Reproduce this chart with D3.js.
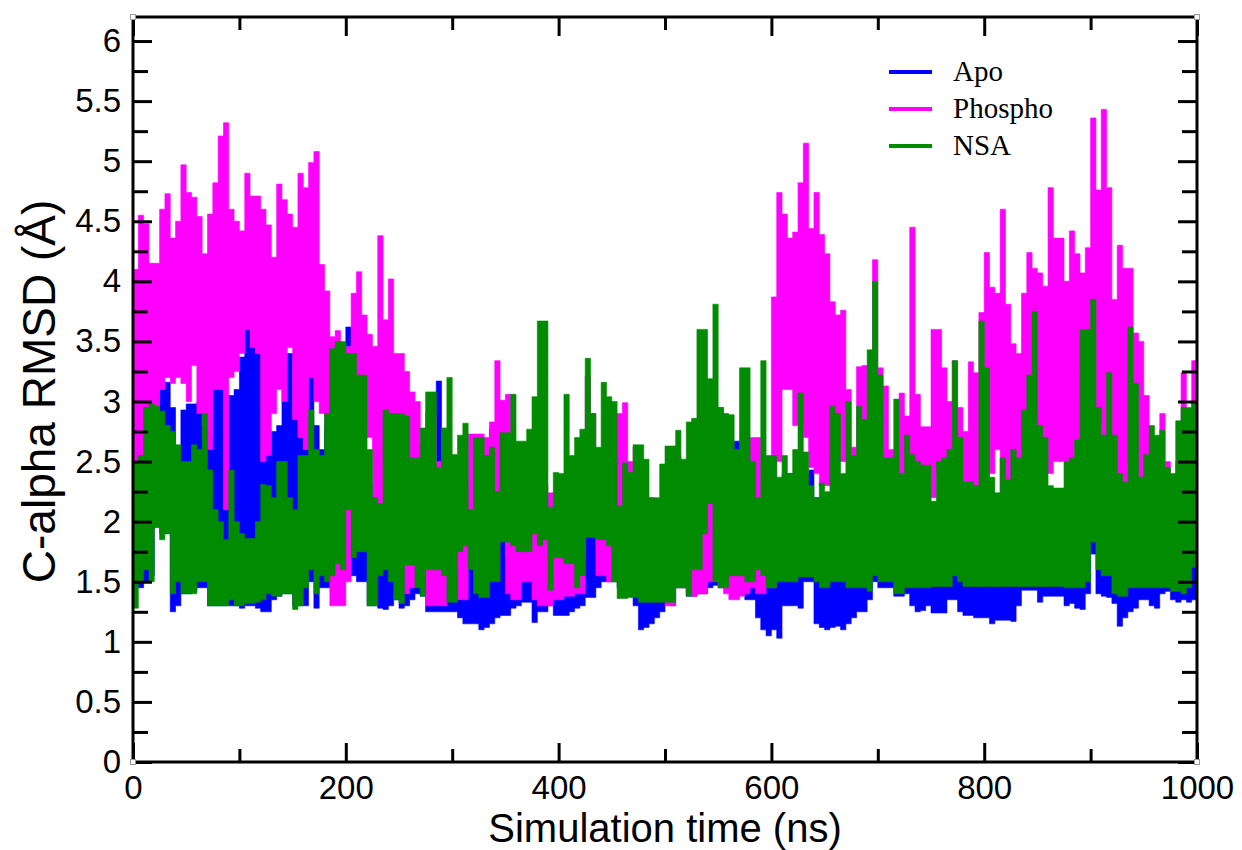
<!DOCTYPE html>
<html>
<head>
<meta charset="utf-8">
<script src="https://cdn.jsdelivr.net/npm/d3@7"></script>
<style>
  body { margin: 0; background: #fff; }
  svg { display: block; }
</style>
</head>
<body>
<svg id="chart" width="1242" height="850"></svg>
<script>
// Trajectory RMSD envelopes: each value is the max / min over a 5 ns window.
const windowNs = 5;

const apoHigh = [
  2.4,2.4,2.6,2.8,2.9,3.1,3.16,2.95,2.6,2.93,2.98,2.98,3.0,3.19,2.7,3.16,3.1,2.1,3.05,3.1,3.37,3.6,3.45,3.4,2.5,
  2.6,2.75,2.8,3.3,3.4,2.85,2.7,2.6,3.2,2.8,2.6,2.8,3.0,2.5,2.5,3.62,3.0,2.6,2.5,2.3,2.2,2.1,2.2,2.3,2.3,
  2.3,2.0,2.0,2.0,2.1,2.0,2.5,3.17,2.4,2.2,2.2,2.0,2.0,2.0,2.0,1.8,1.8,2.77,2.0,1.9,1.7,1.7,1.7,1.7,1.7,
  1.9,1.9,1.9,1.9,1.6,1.6,1.6,1.6,1.6,1.7,1.87,1.87,1.8,1.8,1.8,1.8,1.6,1.6,1.6,1.6,1.6,1.6,1.6,1.6,1.7,
  2.2,2.0,2.0,2.0,2.0,2.0,2.6,2.3,2.0,2.0,2.0,2.0,2.0,2.67,2.67,2.3,2.67,2.0,2.0,1.8,1.8,1.8,2.4,2.4,2.4,
  2.4,2.4,2.43,2.2,2.2,2.2,2.2,2.2,2.2,2.2,2.0,2.0,2.0,2.0,2.0,2.0,2.0,2.5,2.5,2.0,2.0,2.0,2.0,2.0,2.0,
  2.0,2.0,2.0,2.0,2.0,1.7,1.7,1.7,1.7,1.7,1.7,1.7,1.7,1.7,1.7,1.65,1.65,1.65,1.65,1.65,1.65,1.65,1.65,1.65,1.65,
  2.0,2.0,2.0,2.0,2.0,2.0,2.0,2.4,2.0,2.0,2.0,2.0,2.0,2.0,2.0,2.0,2.0,2.0,2.0,2.0,2.0,2.0,2.0,2.0,2.0
];
const apoLow = [
  1.45,1.45,1.5,1.55,2.0,1.9,1.9,1.25,1.3,1.4,1.4,1.42,1.45,1.45,1.3,1.3,1.3,1.3,1.3,1.3,1.28,1.3,1.3,1.28,1.25,
  1.25,1.35,1.38,1.4,1.4,1.3,1.3,1.3,1.5,1.28,1.45,1.45,1.5,1.6,1.55,1.55,1.55,1.5,1.5,1.3,1.3,1.28,1.27,1.3,1.35,
  1.28,1.3,1.35,1.4,1.38,1.25,1.25,1.25,1.25,1.25,1.25,1.2,1.15,1.15,1.15,1.1,1.12,1.15,1.2,1.22,1.22,1.28,1.3,1.33,1.33,
  1.16,1.25,1.25,1.3,1.22,1.22,1.22,1.25,1.28,1.3,1.37,1.37,1.45,1.5,1.5,1.5,1.45,1.45,1.45,1.3,1.1,1.12,1.15,1.2,1.25,
  1.33,1.3,1.45,1.45,1.38,1.38,1.4,1.4,1.45,1.47,1.45,1.45,1.5,1.45,1.4,1.35,1.35,1.2,1.1,1.05,1.1,1.03,1.3,1.3,1.3,
  1.28,1.5,1.5,1.15,1.12,1.1,1.12,1.13,1.1,1.15,1.2,1.25,1.25,1.35,1.5,1.45,1.45,1.45,1.38,1.38,1.4,1.3,1.25,1.26,1.3,
  1.24,1.24,1.24,1.35,1.35,1.25,1.22,1.22,1.2,1.2,1.2,1.15,1.18,1.18,1.18,1.17,1.3,1.43,1.43,1.43,1.33,1.38,1.38,1.38,1.38,
  1.3,1.32,1.28,1.27,1.4,1.73,1.4,1.38,1.37,1.32,1.13,1.2,1.25,1.28,1.35,1.35,1.3,1.28,1.4,1.42,1.35,1.33,1.35,1.33,1.35
];

const phosphoHigh = [
  4.1,4.55,4.48,4.15,4.15,4.6,4.73,4.36,4.5,4.97,4.74,4.7,4.54,4.23,4.56,4.82,5.21,5.32,4.6,4.5,4.42,4.9,4.71,4.71,4.6,
  4.47,4.2,4.81,4.68,4.56,4.45,4.9,4.78,4.99,5.08,4.14,3.92,3.54,3.59,3.43,3.46,3.9,4.08,3.72,3.56,3.46,4.38,3.68,4.02,3.4,
  3.4,3.25,3.08,3.0,2.65,2.9,2.9,2.5,2.4,2.2,2.3,2.2,2.3,2.73,2.73,2.73,2.7,2.83,3.34,3.01,3.06,2.5,2.5,2.5,2.4,
  2.2,2.2,2.3,2.24,2.0,1.9,1.9,1.9,1.9,2.2,3.21,2.9,2.3,2.2,2.3,2.9,2.9,2.99,2.5,2.62,2.3,2.2,2.2,2.1,2.1,
  2.2,2.2,2.55,2.45,2.2,2.2,2.2,2.3,2.8,2.5,2.95,2.5,2.3,2.3,2.3,2.2,2.7,2.7,2.2,2.2,3.87,4.74,4.56,4.36,4.41,
  4.82,5.15,4.44,4.74,4.39,4.23,3.83,3.72,3.76,3.1,2.62,3.29,3.3,3.3,4.18,3.28,3.13,2.6,2.6,3.07,2.88,4.45,3.06,2.79,2.79,
  3.6,3.6,3.28,3.0,3.34,2.95,2.75,3.33,3.24,3.74,4.24,3.95,3.9,4.6,3.81,3.48,3.4,3.9,4.24,4.11,4.07,3.96,4.78,4.36,4.36,
  4.0,4.42,4.23,4.07,4.28,5.36,4.76,5.43,4.78,3.85,4.3,4.11,4.11,3.57,3.5,3.05,2.61,2.7,2.9,2.5,2.3,2.5,3.24,2.9,3.34
];
const phosphoLow = [
  2.3,2.4,2.5,2.8,2.9,3.1,3.2,3.15,3.2,3.15,3.0,3.3,2.9,2.8,2.6,3.1,3.1,2.1,3.2,3.25,3.4,3.6,3.45,3.4,2.5,
  2.55,2.9,3.1,3.0,3.45,2.85,2.7,2.6,3.2,3.0,2.9,2.8,1.3,1.3,1.3,1.5,1.8,3.0,2.8,2.7,2.1,1.85,2.5,2.4,2.3,
  2.3,1.4,1.45,2.0,1.9,1.3,1.3,1.3,1.3,1.5,1.6,1.35,1.35,1.7,1.7,1.7,1.8,2.0,2.0,2.0,1.4,1.35,1.35,1.5,1.5,
  1.35,1.3,1.3,1.3,1.35,1.35,1.38,1.38,1.4,1.4,1.9,1.9,1.55,1.55,1.5,1.5,1.5,1.5,1.5,1.5,1.4,1.35,1.35,1.35,1.35,
  1.3,1.3,1.45,1.45,1.4,1.38,1.4,1.4,1.5,1.5,1.45,1.4,1.35,1.35,1.38,1.4,1.45,1.4,1.4,1.45,1.45,2.5,3.1,3.1,2.8,
  2.8,2.7,2.45,2.4,2.3,2.3,2.3,2.5,2.5,2.6,2.0,2.0,1.9,1.6,1.6,2.0,2.2,2.2,2.2,2.2,2.2,2.2,2.2,2.0,2.0,
  2.2,2.4,2.4,2.4,2.3,2.3,2.2,2.2,2.2,2.2,2.3,2.4,2.6,2.1,2.35,2.35,2.4,2.6,2.6,2.6,2.6,2.5,2.4,2.5,2.5,
  2.5,2.5,2.6,2.9,2.9,2.9,2.8,2.2,2.5,2.4,2.0,2.2,2.5,2.4,2.3,2.3,2.3,2.2,2.3,2.2,2.0,2.0,2.2,2.2,2.3
];

const nsaHigh = [
  2.5,2.55,2.95,2.98,2.96,2.92,2.8,2.75,2.64,2.5,2.5,2.64,2.6,2.9,2.43,2.1,2.0,1.85,2.43,2.0,1.9,1.86,1.86,2.0,2.31,
  2.3,2.2,2.5,2.5,2.2,2.1,2.55,2.55,2.93,2.6,2.55,2.9,3.44,3.5,3.5,3.4,3.4,3.22,3.22,2.6,2.2,2.15,2.93,2.9,2.9,
  2.9,2.88,2.53,2.53,2.78,3.08,3.08,2.45,2.78,3.2,2.56,2.72,2.82,2.1,2.7,2.7,2.55,2.62,2.25,2.74,2.74,3.06,2.67,2.67,2.77,
  3.04,3.67,3.67,2.12,2.41,2.4,3.06,2.55,2.7,2.77,3.36,2.9,2.62,3.16,3.04,3.0,2.13,2.49,2.41,2.64,2.64,2.52,2.2,2.2,2.48,
  2.63,2.63,2.76,2.52,2.83,2.86,3.6,3.6,3.19,3.81,2.95,2.9,2.89,2.6,3.28,3.28,2.5,2.2,3.34,2.55,2.55,2.37,2.55,2.4,2.6,
  3.07,2.58,2.3,2.2,2.32,2.25,2.96,2.9,2.4,3.0,2.55,2.96,2.85,3.43,4.0,3.22,2.53,2.53,3.02,2.4,2.72,2.56,2.5,2.47,2.47,
  2.17,2.5,2.53,2.6,3.34,2.7,2.33,2.33,2.3,3.67,3.28,2.37,2.24,2.53,2.35,2.6,2.53,2.93,3.22,3.75,2.8,2.7,2.3,2.28,2.28,
  2.5,2.53,2.68,3.6,3.6,3.85,2.95,2.72,3.24,2.72,2.4,2.33,3.62,3.15,2.37,2.56,2.8,2.72,2.76,2.45,2.4,2.84,2.95,2.95,3.0
];
const nsaLow = [
  1.28,1.5,1.6,1.5,1.95,1.85,1.9,1.4,1.5,1.4,1.4,1.4,1.5,1.5,1.3,1.3,1.3,1.3,1.35,1.3,1.3,1.32,1.32,1.33,1.35,
  1.4,1.38,1.38,1.4,1.4,1.27,1.3,1.45,1.6,1.4,1.55,1.5,1.55,1.65,1.6,2.1,1.7,1.75,1.75,1.3,1.3,1.55,1.6,1.5,1.35,
  1.32,1.64,1.64,1.45,1.38,1.6,1.6,1.6,1.55,1.33,1.33,1.75,1.8,1.6,1.4,1.37,1.37,1.5,1.5,1.83,1.83,1.8,1.75,1.75,1.75,
  1.9,1.8,1.85,1.43,1.7,1.7,1.65,1.65,1.45,1.55,1.87,1.87,1.85,1.85,1.8,1.5,1.36,1.36,1.37,1.37,1.33,1.33,1.33,1.33,1.33,
  1.33,1.33,1.45,1.45,1.38,1.6,1.6,1.9,2.15,1.5,1.45,1.45,1.55,1.55,1.55,1.5,1.5,1.6,1.55,1.45,1.45,1.5,1.5,1.5,1.5,
  1.54,1.54,1.54,1.5,1.45,1.45,1.5,1.5,1.5,1.45,1.45,1.45,1.45,1.42,1.55,1.5,1.5,1.5,1.4,1.4,1.45,1.45,1.45,1.45,1.45,
  1.46,1.46,1.46,1.46,1.55,1.5,1.46,1.46,1.46,1.46,1.46,1.46,1.46,1.46,1.46,1.46,1.46,1.46,1.46,1.46,1.46,1.46,1.46,1.46,1.46,
  1.45,1.45,1.45,1.45,1.5,1.83,1.6,1.55,1.55,1.4,1.38,1.38,1.45,1.45,1.45,1.45,1.45,1.45,1.45,1.45,1.42,1.42,1.4,1.45,1.62
];

const seriesNames = ["Apo", "Phospho", "NSA"];
const seriesColors = ["#0000ff", "#ff00ff", "#008b00"];
const xMajorTicks = [0, 200, 400, 600, 800, 1000];
const xMinorTicks = [100, 300, 500, 700, 900];
const yMajorTicks = [0, 0.5, 1, 1.5, 2, 2.5, 3, 3.5, 4, 4.5, 5, 5.5, 6];
const yMinorTicks = [0.25, 0.75, 1.25, 1.75, 2.25, 2.75, 3.25, 3.75, 4.25, 4.75, 5.25, 5.75];

const svg = d3.select("#chart");
const plot = { left: 133, right: 1197, top: 17, bottom: 762 };

const x = d3.scaleLinear().domain([0, 1000]).range([plot.left, plot.right]);
const y = d3.scaleLinear().domain([0, 6.2]).range([plot.bottom, plot.top]);

svg.append("defs").append("clipPath").attr("id", "plot-clip")
  .append("rect")
  .attr("x", plot.left).attr("y", plot.top)
  .attr("width", plot.right - plot.left).attr("height", plot.bottom - plot.top);

function envelope(hi, lo) {
  const pts = hi.map((h, i) => ({ t: i * windowNs, hi: h, lo: lo[i] }));
  const last = pts[pts.length - 1];
  pts.push({ t: hi.length * windowNs, hi: last.hi, lo: last.lo });
  return pts;
}

const band = d3.area()
  .curve(d3.curveStepAfter)
  .x(d => x(d.t))
  .y0(d => y(d.lo))
  .y1(d => y(d.hi));

const series = [
  envelope(apoHigh, apoLow),
  envelope(phosphoHigh, phosphoLow),
  envelope(nsaHigh, nsaLow)
];

const dataLayer = svg.append("g").attr("clip-path", "url(#plot-clip)");
series.forEach((pts, i) => {
  dataLayer.append("path")
    .datum(pts)
    .attr("d", band)
    .attr("fill", seriesColors[i])
    .attr("stroke", seriesColors[i])
    .attr("stroke-width", 0.6);
});

// Axes: ticks point into the plot on all four sides
const tickFont = "'Liberation Sans', Arial, Helvetica, sans-serif";
const fmt = d => String(d);

function styleAxis(g) {
  g.select(".domain").remove();
  g.selectAll(".tick line").attr("stroke", "#000").attr("stroke-width", 3);
  g.selectAll(".tick text").attr("font-family", tickFont).attr("font-size", 33).attr("fill", "#000");
}

svg.append("g").attr("transform", `translate(0,${plot.bottom})`)
  .call(d3.axisBottom(x).tickValues(xMajorTicks).tickSize(-19).tickPadding(14).tickFormat(fmt))
  .call(styleAxis);
svg.append("g").attr("transform", `translate(0,${plot.bottom})`)
  .call(d3.axisBottom(x).tickValues(xMinorTicks).tickSize(-13).tickFormat(""))
  .call(styleAxis);
svg.append("g").attr("transform", `translate(0,${plot.top})`)
  .call(d3.axisTop(x).tickValues(xMajorTicks).tickSize(-19).tickFormat(""))
  .call(styleAxis);
svg.append("g").attr("transform", `translate(0,${plot.top})`)
  .call(d3.axisTop(x).tickValues(xMinorTicks).tickSize(-13).tickFormat(""))
  .call(styleAxis);

svg.append("g").attr("transform", `translate(${plot.left},0)`)
  .call(d3.axisLeft(y).tickValues(yMajorTicks).tickSize(-19).tickPadding(12).tickFormat(fmt))
  .call(styleAxis);
svg.append("g").attr("transform", `translate(${plot.left},0)`)
  .call(d3.axisLeft(y).tickValues(yMinorTicks).tickSize(-15).tickFormat(""))
  .call(styleAxis);
svg.append("g").attr("transform", `translate(${plot.right},0)`)
  .call(d3.axisRight(y).tickValues(yMajorTicks).tickSize(-19).tickFormat(""))
  .call(styleAxis);
svg.append("g").attr("transform", `translate(${plot.right},0)`)
  .call(d3.axisRight(y).tickValues(yMinorTicks).tickSize(-15).tickFormat(""))
  .call(styleAxis);

// Frame
svg.append("rect")
  .attr("x", plot.left).attr("y", plot.top)
  .attr("width", plot.right - plot.left).attr("height", plot.bottom - plot.top)
  .attr("fill", "none").attr("stroke", "#000").attr("stroke-width", 3);

[[plot.left, plot.top], [plot.right, plot.top], [plot.left, plot.bottom], [plot.right, plot.bottom]]
  .forEach(([cx, cy]) => {
    svg.append("rect").attr("x", cx - 2.5).attr("y", cy - 2.5).attr("width", 5).attr("height", 5)
      .attr("fill", "#fff").attr("stroke", "#999").attr("stroke-width", 1);
  });

// Axis titles
svg.append("text")
  .attr("x", (plot.left + plot.right) / 2).attr("y", 842)
  .attr("text-anchor", "middle")
  .attr("font-family", tickFont).attr("font-size", 40)
  .text("Simulation time (ns)");

svg.append("text")
  .attr("transform", `translate(55,${(plot.top + plot.bottom) / 2 + 2}) rotate(-90)`)
  .attr("text-anchor", "middle")
  .attr("font-family", tickFont).attr("font-size", 46)
  .text("C-alpha RMSD (Å)");

// Legend
const legend = svg.append("g").attr("transform", "translate(889,72)");
seriesNames.forEach((name, i) => {
  const row = legend.append("g").attr("transform", `translate(0,${i * 37})`);
  row.append("line").attr("x1", 0).attr("x2", 43).attr("y1", 0).attr("y2", 0)
    .attr("stroke", seriesColors[i]).attr("stroke-width", 4);
  row.append("text").attr("x", 64).attr("y", 8.5)
    .attr("font-family", "'Liberation Serif', 'Times New Roman', serif")
    .attr("font-size", 29)
    .text(name);
});
</script>
</body>
</html>
